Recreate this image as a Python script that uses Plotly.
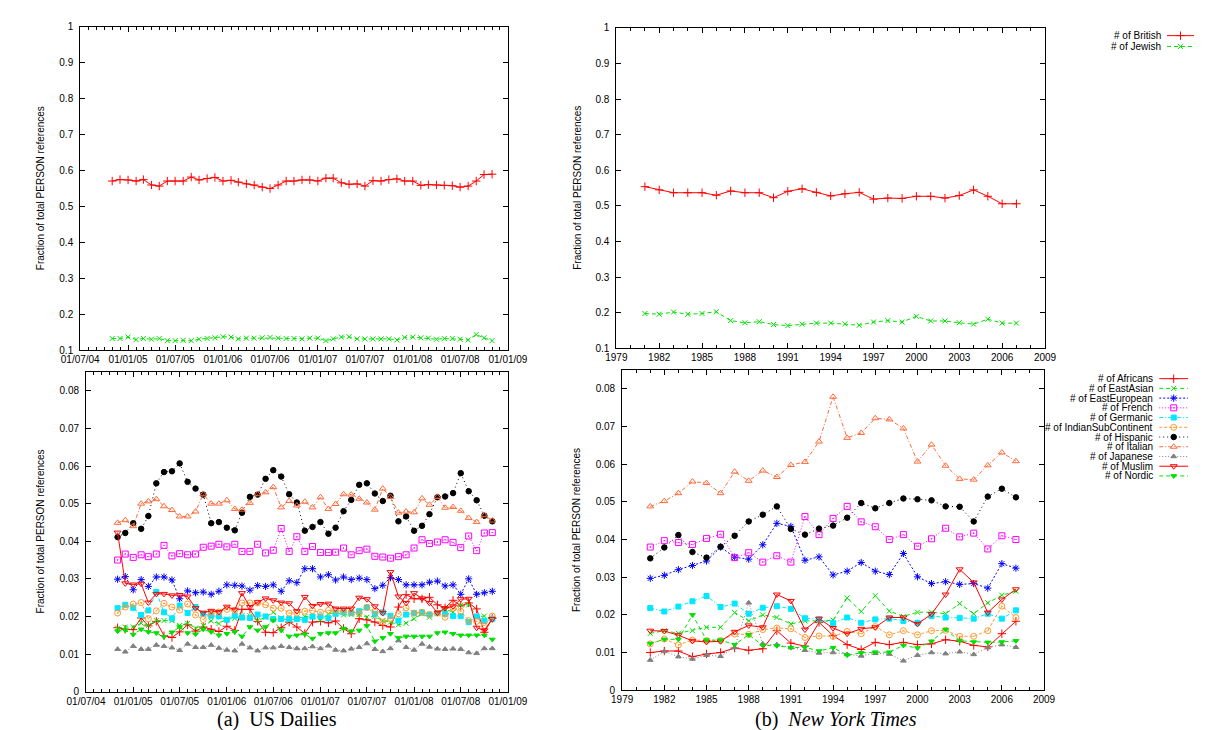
import plotly.graph_objects as go
import pandas as pd

W, H = 1207, 730

# ---------------- data ----------------
us_months = pd.date_range("2004-11-01", "2008-11-01", freq="MS")
nyt_years = list(range(1981, 2008))

us_british = [0.571,0.575,0.574,0.571,0.575,0.560,0.557,0.571,0.571,0.571,
              0.582,0.574,0.578,0.581,0.571,0.573,0.568,0.563,0.560,0.554,
              0.550,0.560,0.571,0.571,0.574,0.574,0.571,0.579,0.579,0.566,
              0.562,0.563,0.557,0.572,0.571,0.575,0.577,0.571,0.571,0.559,
              0.561,0.560,0.559,0.558,0.554,0.557,0.571,0.589,0.590]
us_jewish = [0.133,0.133,0.137,0.130,0.133,0.131,0.133,0.127,0.127,0.128,
             0.127,0.131,0.133,0.135,0.138,0.137,0.132,0.134,0.134,0.135,
             0.136,0.134,0.133,0.133,0.132,0.134,0.134,0.127,0.132,0.137,
             0.138,0.132,0.132,0.132,0.132,0.132,0.129,0.136,0.137,0.135,
             0.134,0.131,0.133,0.133,0.131,0.129,0.144,0.135,0.127]

nyt_british = [0.554,0.545,0.537,0.537,0.537,0.530,0.542,0.537,0.537,0.523,
               0.541,0.548,0.538,0.528,0.534,0.538,0.519,0.522,0.521,0.527,
               0.527,0.522,0.529,0.545,0.527,0.506,0.506]
nyt_jewish = [0.198,0.196,0.202,0.196,0.198,0.203,0.178,0.172,0.175,0.167,
              0.164,0.168,0.171,0.171,0.169,0.165,0.174,0.178,0.174,0.190,
              0.177,0.177,0.172,0.168,0.182,0.171,0.171]

us_africans = [0.0170,0.0166,0.0165,0.0196,0.0175,0.0187,0.0149,0.0144,0.0159,0.0178,
               0.0161,0.0172,0.0166,0.0160,0.0174,0.0163,0.0219,0.0219,0.0187,0.0158,
               0.0157,0.0170,0.0185,0.0172,0.0155,0.0185,0.0187,0.0183,0.0188,0.0168,
               0.0154,0.0194,0.0191,0.0185,0.0176,0.0172,0.0225,0.0258,0.0247,0.0247,
               0.0251,0.0231,0.0223,0.0243,0.0228,0.0236,0.0220,0.0158,0.0195]
us_eastasian = [0.0169,0.0172,0.0172,0.0182,0.0176,0.0189,0.0189,0.0189,0.0176,0.0182,
                0.0169,0.0176,0.0188,0.0181,0.0193,0.0195,0.0202,0.0202,0.0189,0.0198,
                0.0211,0.0196,0.0189,0.0194,0.0200,0.0198,0.0190,0.0207,0.0210,0.0204,
                0.0205,0.0205,0.0198,0.0200,0.0189,0.0185,0.0178,0.0182,0.0194,0.0207,
                0.0198,0.0207,0.0219,0.0212,0.0230,0.0231,0.0200,0.0201,0.0194]
us_easteuropean = [0.0299,0.0306,0.0271,0.0298,0.0280,0.0305,0.0305,0.0297,0.0247,0.0268,
                   0.0263,0.0265,0.0259,0.0267,0.0284,0.0283,0.0281,0.0270,0.0282,0.0280,
                   0.0284,0.0267,0.0295,0.0290,0.0327,0.0327,0.0305,0.0311,0.0297,0.0305,
                   0.0298,0.0302,0.0298,0.0274,0.0283,0.0303,0.0298,0.0284,0.0284,0.0284,
                   0.0291,0.0294,0.0281,0.0284,0.0259,0.0300,0.0259,0.0263,0.0267]
us_french = [0.0350,0.0366,0.0357,0.0364,0.0359,0.0366,0.0389,0.0361,0.0367,0.0364,
             0.0366,0.0384,0.0387,0.0392,0.0385,0.0392,0.0373,0.0373,0.0392,0.0369,
             0.0376,0.0434,0.0373,0.0412,0.0373,0.0386,0.0370,0.0370,0.0371,0.0382,
             0.0364,0.0375,0.0379,0.0360,0.0358,0.0355,0.0359,0.0364,0.0382,0.0404,
             0.0394,0.0398,0.0404,0.0397,0.0383,0.0414,0.0375,0.0422,0.0423]
us_germanic = [0.0222,0.0231,0.0223,0.0204,0.0216,0.0265,0.0211,0.0195,0.0229,0.0209,
               0.0225,0.0207,0.0202,0.0200,0.0191,0.0202,0.0197,0.0196,0.0205,0.0200,
               0.0193,0.0193,0.0193,0.0193,0.0191,0.0200,0.0200,0.0195,0.0207,0.0211,
               0.0209,0.0214,0.0224,0.0207,0.0211,0.0202,0.0189,0.0205,0.0209,0.0211,
               0.0205,0.0209,0.0207,0.0201,0.0201,0.0185,0.0200,0.0188,0.0194]
us_indian = [0.0209,0.0225,0.0233,0.0237,0.0194,0.0215,0.0235,0.0225,0.0217,0.0233,
             0.0204,0.0192,0.0209,0.0212,0.0219,0.0216,0.0236,0.0236,0.0236,0.0231,
             0.0222,0.0222,0.0209,0.0209,0.0214,0.0216,0.0211,0.0216,0.0216,0.0214,
             0.0211,0.0209,0.0224,0.0213,0.0185,0.0194,0.0207,0.0223,0.0209,0.0211,
             0.0205,0.0209,0.0198,0.0222,0.0214,0.0189,0.0187,0.0176,0.0201]
us_hispanic = [0.0411,0.0422,0.0448,0.0433,0.0467,0.0554,0.0584,0.0586,0.0607,0.0558,
               0.0540,0.0524,0.0448,0.0451,0.0436,0.0429,0.0476,0.0518,0.0524,0.0566,
               0.0589,0.0572,0.0525,0.0503,0.0428,0.0438,0.0451,0.0420,0.0436,0.0480,
               0.0510,0.0550,0.0554,0.0527,0.0507,0.0521,0.0453,0.0466,0.0428,0.0441,
               0.0472,0.0517,0.0519,0.0528,0.0581,0.0533,0.0509,0.0468,0.0453]
us_italian = [0.0449,0.0456,0.0440,0.0500,0.0506,0.0512,0.0493,0.0483,0.0466,0.0466,
              0.0479,0.0525,0.0500,0.0500,0.0509,0.0486,0.0484,0.0502,0.0525,0.0530,
              0.0544,0.0490,0.0507,0.0495,0.0505,0.0490,0.0517,0.0486,0.0499,0.0525,
              0.0524,0.0513,0.0503,0.0484,0.0540,0.0518,0.0476,0.0479,0.0477,0.0514,
              0.0497,0.0518,0.0489,0.0491,0.0481,0.0462,0.0451,0.0469,0.0455]
us_japanese = [0.0113,0.0106,0.0121,0.0113,0.0113,0.0124,0.0121,0.0117,0.0110,0.0127,
               0.0118,0.0118,0.0124,0.0116,0.0111,0.0109,0.0127,0.0117,0.0109,0.0117,
               0.0117,0.0121,0.0118,0.0115,0.0115,0.0120,0.0115,0.0122,0.0111,0.0109,
               0.0114,0.0118,0.0128,0.0113,0.0107,0.0115,0.0136,0.0118,0.0111,0.0127,
               0.0119,0.0114,0.0113,0.0114,0.0113,0.0104,0.0102,0.0115,0.0115]
us_muslim = [0.0423,0.0288,0.0285,0.0287,0.0237,0.0260,0.0260,0.0256,0.0257,0.0253,
             0.0222,0.0210,0.0215,0.0212,0.0226,0.0218,0.0262,0.0225,0.0238,0.0248,
             0.0243,0.0237,0.0235,0.0214,0.0252,0.0228,0.0233,0.0234,0.0221,0.0221,
             0.0221,0.0250,0.0246,0.0227,0.0209,0.0318,0.0253,0.0236,0.0262,0.0248,
             0.0236,0.0210,0.0222,0.0227,0.0246,0.0247,0.0170,0.0163,0.0193]
us_nordic = [0.0161,0.0163,0.0152,0.0166,0.0159,0.0156,0.0146,0.0158,0.0172,0.0156,
             0.0153,0.0166,0.0159,0.0150,0.0154,0.0159,0.0147,0.0172,0.0163,0.0172,
             0.0189,0.0163,0.0147,0.0150,0.0153,0.0141,0.0154,0.0156,0.0156,0.0168,
             0.0161,0.0163,0.0175,0.0134,0.0143,0.0154,0.0143,0.0147,0.0147,0.0147,
             0.0147,0.0156,0.0158,0.0154,0.0150,0.0150,0.0150,0.0150,0.0139]

nyt_africans = [0.0100,0.0104,0.0104,0.0089,0.0096,0.0100,0.0112,0.0106,0.0110,0.0158,
                0.0125,0.0117,0.0180,0.0145,0.0121,0.0108,0.0127,0.0121,0.0127,0.0121,
                0.0123,0.0134,0.0130,0.0119,0.0115,0.0150,0.0183]
nyt_eastasian = [0.0151,0.0158,0.0151,0.0158,0.0167,0.0167,0.0206,0.0184,0.0200,0.0193,
                 0.0176,0.0184,0.0184,0.0186,0.0245,0.0209,0.0251,0.0210,0.0196,0.0207,
                 0.0207,0.0203,0.0230,0.0203,0.0232,0.0252,0.0263]
nyt_easteuropean = [0.0297,0.0305,0.0320,0.0331,0.0343,0.0380,0.0353,0.0348,0.0386,0.0443,
                    0.0435,0.0345,0.0354,0.0306,0.0316,0.0339,0.0316,0.0307,0.0363,0.0301,
                    0.0283,0.0288,0.0281,0.0283,0.0271,0.0336,0.0324]
nyt_french = [0.0380,0.0397,0.0392,0.0387,0.0403,0.0414,0.0352,0.0365,0.0340,0.0357,
              0.0340,0.0461,0.0413,0.0456,0.0488,0.0447,0.0434,0.0400,0.0413,0.0382,
              0.0402,0.0430,0.0407,0.0417,0.0375,0.0410,0.0400]
nyt_germanic = [0.0218,0.0209,0.0222,0.0236,0.0250,0.0221,0.0230,0.0203,0.0219,0.0223,
                0.0216,0.0191,0.0188,0.0178,0.0193,0.0179,0.0188,0.0190,0.0184,0.0179,
                0.0197,0.0193,0.0192,0.0190,0.0203,0.0190,0.0212]
nyt_indian = [0.0123,0.0136,0.0120,0.0133,0.0132,0.0132,0.0149,0.0148,0.0161,0.0165,
              0.0163,0.0140,0.0144,0.0143,0.0156,0.0150,0.0169,0.0147,0.0158,0.0147,
              0.0158,0.0159,0.0143,0.0143,0.0158,0.0223,0.0193]
nyt_hispanic = [0.0350,0.0379,0.0412,0.0367,0.0352,0.0381,0.0410,0.0448,0.0466,0.0488,
                0.0428,0.0413,0.0429,0.0437,0.0458,0.0497,0.0483,0.0497,0.0509,0.0507,
                0.0504,0.0488,0.0487,0.0448,0.0514,0.0535,0.0512]
nyt_italian = [0.0488,0.0502,0.0523,0.0554,0.0550,0.0523,0.0580,0.0556,0.0583,0.0566,
               0.0598,0.0606,0.0660,0.0779,0.0670,0.0683,0.0722,0.0719,0.0695,0.0607,
               0.0652,0.0596,0.0561,0.0559,0.0597,0.0631,0.0608]
nyt_japanese = [0.0080,0.0103,0.0089,0.0083,0.0093,0.0090,0.0113,0.0232,0.0123,0.0121,
                0.0113,0.0106,0.0099,0.0100,0.0095,0.0091,0.0098,0.0096,0.0078,0.0093,
                0.0100,0.0097,0.0102,0.0095,0.0113,0.0121,0.0114]
nyt_muslim = [0.0158,0.0157,0.0146,0.0131,0.0128,0.0130,0.0155,0.0172,0.0167,0.0254,
              0.0237,0.0161,0.0190,0.0165,0.0150,0.0163,0.0167,0.0193,0.0193,0.0176,
              0.0202,0.0254,0.0321,0.0286,0.0206,0.0241,0.0268]
nyt_nordic = [0.0124,0.0135,0.0135,0.0200,0.0133,0.0133,0.0121,0.0147,0.0119,0.0118,
              0.0113,0.0114,0.0104,0.0113,0.0093,0.0099,0.0101,0.0101,0.0119,0.0112,
              0.0130,0.0161,0.0131,0.0128,0.0127,0.0128,0.0131]

top_names = ["British", "Jewish"]
bottom_names = ["Africans", "EastAsian", "EastEuropean", "French", "Germanic",
                "IndianSubContinent", "Hispanic", "Italian", "Japanese", "Muslim", "Nordic"]

us_top = {"British": us_british, "Jewish": us_jewish}
nyt_top = {"British": nyt_british, "Jewish": nyt_jewish}
us_bottom = {"Africans": us_africans, "EastAsian": us_eastasian, "EastEuropean": us_easteuropean,
             "French": us_french, "Germanic": us_germanic, "IndianSubContinent": us_indian,
             "Hispanic": us_hispanic, "Italian": us_italian, "Japanese": us_japanese,
             "Muslim": us_muslim, "Nordic": us_nordic}
nyt_bottom = {"Africans": nyt_africans, "EastAsian": nyt_eastasian, "EastEuropean": nyt_easteuropean,
              "French": nyt_french, "Germanic": nyt_germanic, "IndianSubContinent": nyt_indian,
              "Hispanic": nyt_hispanic, "Italian": nyt_italian, "Japanese": nyt_japanese,
              "Muslim": nyt_muslim, "Nordic": nyt_nordic}

# ---------------- styles ----------------
GREEN = "#00e000"
styles = {
    "British": dict(color="#ff0000", dash="solid", symbol="cross-thin-open", size=6),
    "Jewish": dict(color=GREEN, dash="4px,3px", symbol="x-thin-open", size=5),
    "Africans": dict(color="#ff0000", dash="solid", symbol="cross-thin-open", size=6),
    "EastAsian": dict(color=GREEN, dash="4px,3px", symbol="x-thin-open", size=5),
    "EastEuropean": dict(color="#0000ff", dash="2px,2px", symbol="asterisk-open", size=6),
    "French": dict(color="#ff00ff", dash="1px,2px", symbol="square-open-dot", size=6),
    "Germanic": dict(color="#00e8ff", dash="4px,2px,1px,2px", symbol="square", size=5),
    "IndianSubContinent": dict(color="#ff9a30", dash="3px,2px", symbol="circle-open-dot", size=6),
    "Hispanic": dict(color="#000000", dash="1px,3px", symbol="circle", size=5.5),
    "Italian": dict(color="#ff6a3a", dash="4px,2px,1px,2px", symbol="triangle-up-open", size=6),
    "Japanese": dict(color="#808080", dash="1px,2px", symbol="triangle-up", size=5),
    "Muslim": dict(color="#ff0000", dash="solid", symbol="triangle-down-open", size=6),
    "Nordic": dict(color=GREEN, dash="4px,3px", symbol="triangle-down", size=5),
}


def add_series(fig, x, y, name, xa, ya):
    s = styles[name]
    fig.add_trace(go.Scatter(
        x=x, y=y, mode="lines+markers", name="# of " + name, showlegend=False,
        xaxis=xa, yaxis=ya,
        line=dict(color=s["color"], width=1, dash=s["dash"]),
        marker=dict(symbol=s["symbol"], size=s["size"], color=s["color"],
                    line=dict(color=s["color"], width=1)),
    ))


fig = go.Figure()
for n in top_names:
    add_series(fig, us_months, us_top[n], n, "x", "y")
    add_series(fig, nyt_years, nyt_top[n], n, "x2", "y2")
for n in bottom_names:
    add_series(fig, us_months, us_bottom[n], n, "x3", "y3")
    add_series(fig, nyt_years, nyt_bottom[n], n, "x4", "y4")

# manual gnuplot-style legends (text right-aligned, sample on the right)
legend_sets = [(top_names, "x5", "y5"), (bottom_names, "x6", "y6")]
annotations = []
for names, xa, ya in legend_sets:
    for k, n in enumerate(names):
        s = styles[n]
        fig.add_trace(go.Scatter(
            x=[0, 0.5, 1], y=[k, k, k], mode="lines+markers", showlegend=False,
            xaxis=xa, yaxis=ya, hoverinfo="skip",
            line=dict(color=s["color"], width=1, dash=s["dash"]),
            marker=dict(symbol=s["symbol"], size=s["size"], color=s["color"],
                        opacity=[0, 1, 0], line=dict(color=s["color"], width=1)),
        ))
        annotations.append(dict(
            xref=xa, yref=ya, x=0, y=k, xanchor="right", yanchor="middle",
            xshift=-4, showarrow=False, text="# of " + n,
            font=dict(family="Liberation Sans", size=10, color="black")))


def px_x(p):
    return p / W


def px_y(p):
    return 1 - p / H


FONT = dict(family="Liberation Sans", size=10, color="black")
axis_common = dict(showline=True, linecolor="black", linewidth=1, mirror="ticks",
                   ticks="inside", ticklen=5, tickwidth=1, tickcolor="black",
                   showgrid=False, zeroline=False, tickfont=FONT, fixedrange=True)
minor_common = dict(ticks="inside", ticklen=3, tickwidth=1, tickcolor="black", showgrid=False)

date_x = dict(axis_common, type="date", range=["2004-07-01", "2009-01-01"],
              tick0="2004-07-01", dtick="M6", tickformat="%d/%m/%y",
              minor=dict(minor_common, dtick="M1"))
year_x = dict(axis_common, range=[1979, 2009], tick0=1979, dtick=3,
              minor=dict(minor_common, dtick=1))
top_y = dict(axis_common, range=[0.1, 1], tick0=0.1, dtick=0.1, ticklabelstandoff=4)
bot_y = dict(axis_common, range=[0, 0.085], tick0=0, dtick=0.01, ticklabelstandoff=4)

legend_ax = dict(visible=False, fixedrange=True)

fig.update_layout(
    width=W, height=H, margin=dict(l=0, r=0, t=0, b=0),
    paper_bgcolor="white", plot_bgcolor="white", showlegend=False,
    xaxis=dict(date_x, domain=[px_x(55), px_x(497)], anchor="y"),
    yaxis=dict(top_y, domain=[px_y(342), px_y(13)], anchor="x"),
    xaxis2=dict(year_x, domain=[px_x(609), px_x(1052)], anchor="y2"),
    yaxis2=dict(top_y, domain=[px_y(340), px_y(14)], anchor="x2"),
    xaxis3=dict(date_x, domain=[px_x(61), px_x(497)], anchor="y3"),
    yaxis3=dict(bot_y, domain=[px_y(689), px_y(364)], anchor="x3"),
    xaxis4=dict(year_x, domain=[px_x(615), px_x(1051)], anchor="y4"),
    yaxis4=dict(bot_y, domain=[px_y(687.5), px_y(362)], anchor="x4"),
    xaxis5=dict(legend_ax, range=[0, 1], domain=[px_x(1178), px_x(1206)], anchor="y5"),
    yaxis5=dict(legend_ax, range=[1.5, -0.5], domain=[px_y(38.5), px_y(16.5)], anchor="x5"),
    xaxis6=dict(legend_ax, range=[0, 1], domain=[px_x(1170), px_x(1200)], anchor="y6"),
    yaxis6=dict(legend_ax, range=[10.5, -0.5], domain=[px_y(474.6), px_y(365.8)], anchor="x6"),
)

ytitle = "Fraction of total PERSON references"
for xc, yc in [(14, 177.5), (14, 526.5), (568, 177), (568, 525)]:
    annotations.append(dict(xref="paper", yref="paper", x=px_x(xc), y=px_y(yc),
                            text=ytitle, textangle=-90, showarrow=False,
                            xanchor="center", yanchor="middle",
                            font=dict(family="Liberation Sans", size=10, color="black")))

annotations.append(dict(xref="paper", yref="paper", x=px_x(258), y=px_y(717),
                        text="(a)  US Dailies", showarrow=False, xanchor="center", yanchor="middle",
                        font=dict(family="Liberation Serif", size=20, color="black")))
annotations.append(dict(xref="paper", yref="paper", x=px_x(836), y=px_y(717),
                        text="(b)  <i>New York Times</i>", showarrow=False, xanchor="center",
                        yanchor="middle",
                        font=dict(family="Liberation Serif", size=20, color="black")))

fig.update_layout(annotations=annotations)

fig.write_html("out.html")
